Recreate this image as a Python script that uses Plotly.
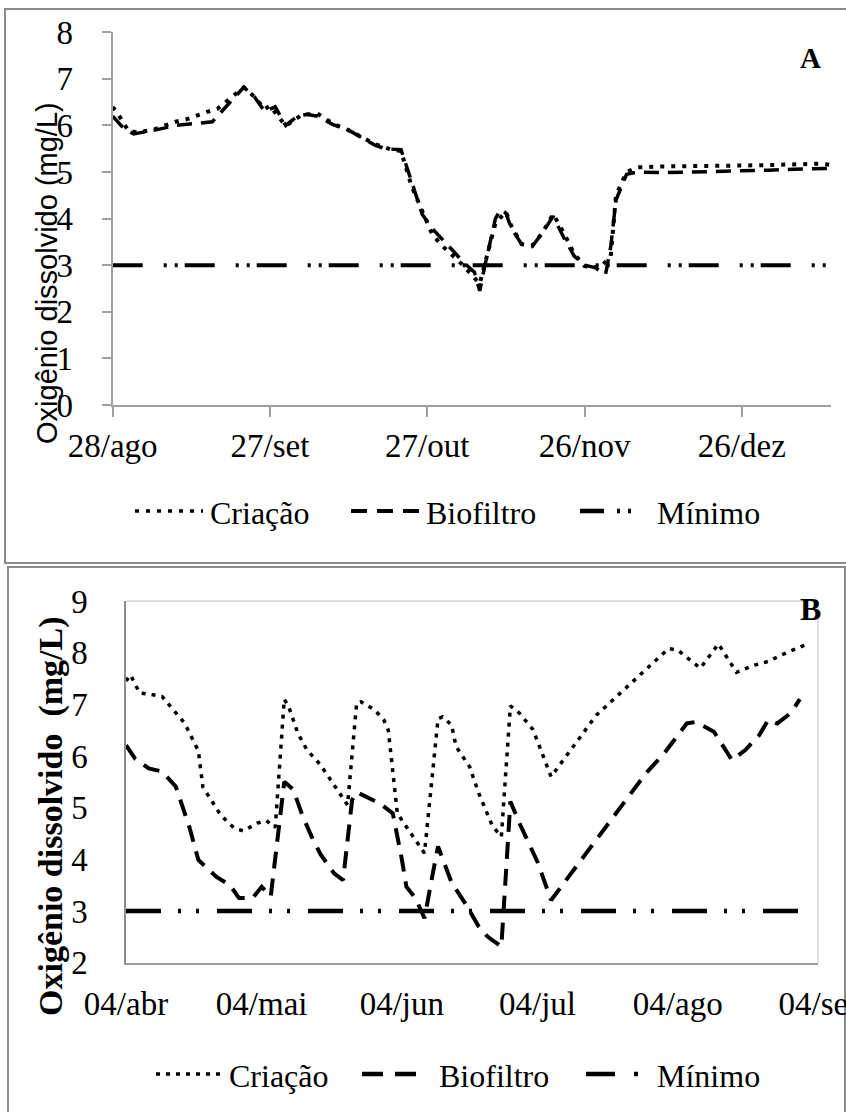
import plotly.graph_objects as go
import pandas as pd

W, H = 846, 1112

# ---------------- Panel A data (days since 28/ago) ----------------
inicio_a = "2012-08-28"
dias_criacao_a = [0, 1, 3, 5, 8, 12, 14, 16, 18, 20, 25, 27, 29, 30, 33, 36, 39, 42, 45, 48,
                  50, 53, 55, 57, 59, 61, 63, 65, 67, 70, 71, 73, 75, 76, 78, 80, 82, 84, 86, 88,
                  90, 93, 95, 96, 98, 100, 105, 110, 115, 120, 125, 130, 135, 137]
criacao_a = [6.40, 6.25, 5.88, 5.85, 5.92, 6.08, 6.13, 6.22, 6.29, 6.36, 6.82, 6.62, 6.35, 6.42, 5.99,
             6.22, 6.26, 6.04, 5.90, 5.72, 5.60, 5.49, 5.45, 4.70, 4.20, 3.65, 3.40, 3.20, 2.98, 2.60,
             3.05, 3.90, 4.15, 3.85, 3.45, 3.42, 3.70, 4.10, 3.70, 3.25, 2.98, 2.95, 3.20, 4.50, 5.00,
             5.10, 5.12, 5.12, 5.13, 5.14, 5.15, 5.17, 5.18, 5.15]
dias_biofiltro_a = [0, 2, 4, 8, 12, 15, 19, 22, 25, 27, 29, 31, 33, 35, 37, 39, 42, 45, 48, 50,
                    52, 55, 57, 59, 61, 63, 65, 67, 69, 70, 71, 73, 74, 75, 76, 78, 80, 82, 84, 86,
                    88, 90, 92, 94, 95, 96, 98, 100, 105, 110, 115, 120, 125, 130, 135, 137]
biofiltro_a = [6.20, 5.95, 5.82, 5.90, 6.00, 6.03, 6.08, 6.45, 6.82, 6.62, 6.30, 6.40, 6.00, 6.18, 6.24,
               6.20, 6.02, 5.90, 5.72, 5.58, 5.50, 5.48, 4.80, 4.10, 3.78, 3.55, 3.30, 3.05, 2.85, 2.45,
               3.00, 4.00, 4.20, 4.12, 3.80, 3.45, 3.40, 3.70, 4.05, 3.60, 3.20, 3.00, 2.95, 2.80, 3.40,
               4.40, 4.95, 5.00, 4.99, 5.00, 5.01, 5.02, 5.04, 5.06, 5.08, 5.08]
dias_minimo_a = [0, 137]
minimo_a = [3, 3]
ticks_dias_a = [0, 30, 60, 90, 120]
ticks_texto_a = ["28/ago", "27/set", "27/out", "26/nov", "26/dez"]
fim_a = 136.95

# ---------------- Panel B data (days since 04/abr) ----------------
inicio_b = "2013-04-04"
dias_criacao_b = [0, 1, 3, 5, 8, 10, 13, 16, 17, 21, 24, 26, 29, 31, 33, 35, 36, 38, 40, 43,
                  46, 49, 51, 52, 55, 57, 58, 60, 62, 64, 66, 69, 70, 72, 73, 76, 78, 81, 83, 85,
                  87, 90, 92, 94, 104, 120, 122, 127, 131, 135, 139, 142, 145, 151]
criacao_b = [7.45, 7.57, 7.22, 7.20, 7.15, 6.95, 6.63, 6.10, 5.40, 4.85, 4.60, 4.55, 4.70, 4.75, 4.62,
             7.10, 6.95, 6.44, 6.12, 5.83, 5.45, 5.05, 7.03, 7.05, 6.89, 6.70, 6.50, 4.89, 4.63, 4.37,
             4.12, 6.72, 6.76, 6.60, 6.18, 5.79, 5.28, 4.65, 4.44, 6.97, 6.83, 6.51, 6.05, 5.60, 6.79,
             8.08, 8.05, 7.70, 8.17, 7.62, 7.76, 7.83, 7.96, 8.18]
dias_biofiltro_b = [0, 2, 5, 8, 11, 14, 16, 20, 23, 25, 28, 30, 32, 35, 37, 39, 41, 43, 46, 48,
                    50, 51, 56, 59, 61, 62, 64, 66, 68, 69, 72, 75, 78, 80, 83, 85, 87, 91, 94, 115,
                    119, 124, 126, 130, 134, 137, 140, 142, 144, 147, 149]
biofiltro_b = [6.21, 5.95, 5.76, 5.70, 5.41, 4.63, 3.99, 3.66, 3.50, 3.25, 3.25, 3.47, 3.28, 5.50, 5.35,
               4.85, 4.45, 4.10, 3.73, 3.60, 5.15, 5.30, 5.09, 4.89, 4.00, 3.47, 3.25, 2.86, 3.80, 4.25,
               3.55, 3.15, 2.70, 2.50, 2.31, 5.12, 4.70, 3.95, 3.21, 5.67, 6.05, 6.63, 6.66, 6.47, 5.92,
               6.12, 6.40, 6.70, 6.63, 6.83, 7.10]
dias_minimo_b = [0, 152]
minimo_b = [3, 3]
ticks_dias_b = [0, 30, 61, 91, 122, 153]
ticks_texto_b = ["04/abr", "04/mai", "04/jun", "04/jul", "04/ago", "04/set"]
fim_b = 153.02

Y_LABEL = "Oxigênio dissolvido (mg/L)"
LEGENDA = ["Criação", "Biofiltro", "Mínimo"]


def datas(inicio, dias):
    return pd.Timestamp(inicio) + pd.to_timedelta(dias, unit="D")


def px(x):
    return x / W


def py(y):
    return 1 - y / H


SERIF = "Liberation Serif, Times New Roman, serif"
SANS = "Liberation Sans, Arial, sans-serif"
GRAY = "#a0a0a0"

DOT_A, DASH_A, MIN_A = "4px,7px", "15px,9px", "30px,21px,3px,8px,3px,7px"
DOT_B, DASH_B, MIN_B = "4px,6px", "17px,10px", "35px,17px,3px,15px,3px,18px"

fig = go.Figure()

# Panel A traces
fig.add_trace(go.Scatter(x=datas(inicio_a, dias_criacao_a), y=criacao_a, xaxis="x", yaxis="y",
                         mode="lines", name=LEGENDA[0], line=dict(color="black", width=4, dash=DOT_A)))
fig.add_trace(go.Scatter(x=datas(inicio_a, dias_biofiltro_a), y=biofiltro_a, xaxis="x", yaxis="y",
                         mode="lines", name=LEGENDA[1], line=dict(color="black", width=3.5, dash=DASH_A)))
fig.add_trace(go.Scatter(x=datas(inicio_a, dias_minimo_a), y=minimo_a, xaxis="x", yaxis="y",
                         mode="lines", name=LEGENDA[2], line=dict(color="black", width=4, dash=MIN_A)))

# Panel B traces
fig.add_trace(go.Scatter(x=datas(inicio_b, dias_criacao_b), y=criacao_b, xaxis="x2", yaxis="y2",
                         mode="lines", name=LEGENDA[0], line=dict(color="black", width=3.5, dash=DOT_B)))
fig.add_trace(go.Scatter(x=datas(inicio_b, dias_biofiltro_b), y=biofiltro_b, xaxis="x2", yaxis="y2",
                         mode="lines", name=LEGENDA[1], line=dict(color="black", width=4, dash=DASH_B)))
fig.add_trace(go.Scatter(x=datas(inicio_b, dias_minimo_b), y=minimo_b, xaxis="x2", yaxis="y2",
                         mode="lines", name=LEGENDA[2], line=dict(color="black", width=4.5, dash=MIN_B)))

tickfont = dict(family=SERIF, size=33, color="black")

fig.update_layout(
    width=W, height=H,
    margin=dict(l=0, r=0, t=0, b=0, autoexpand=False),
    paper_bgcolor="white", plot_bgcolor="white",
    showlegend=False,
    xaxis=dict(domain=[px(112.7), px(830.7)], anchor="y", type="date", automargin=False,
               range=[datas(inicio_a, [0])[0], datas(inicio_a, [fim_a])[0]],
               tickvals=list(datas(inicio_a, ticks_dias_a)), ticktext=ticks_texto_a,
               showline=True, linecolor=GRAY, linewidth=2, ticks="outside", ticklen=10,
               tickwidth=2, tickcolor=GRAY, showgrid=False, zeroline=False,
               tickfont=tickfont, ticklabelstandoff=0),
    yaxis=dict(domain=[py(405), py(32.3)], anchor="x", range=[0, 8], tick0=0, dtick=1, automargin=False,
               showline=True, linecolor=GRAY, linewidth=2, ticks="outside", ticklen=9,
               tickwidth=2, tickcolor=GRAY, showgrid=False, zeroline=False,
               tickfont=tickfont, ticklabelstandoff=22),
    xaxis2=dict(domain=[px(126), px(818)], anchor="y2", type="date", automargin=False,
                range=[datas(inicio_b, [0])[0], datas(inicio_b, [fim_b])[0]],
                tickvals=list(datas(inicio_b, ticks_dias_b)), ticktext=ticks_texto_b,
                showline=True, linecolor="#9a9a9a", linewidth=2, ticks="",
                showgrid=False, zeroline=False, tickfont=tickfont,
                ticklabelstandoff=11, ticklabeloverflow="allow"),
    yaxis2=dict(domain=[py(962.7), py(601)], anchor="x2", range=[2, 9], tick0=2, dtick=1, automargin=False,
                showline=True, linecolor="#8c8c8c", linewidth=1.5, ticks="",
                showgrid=False, zeroline=False, tickfont=tickfont, ticklabelstandoff=30),
)

shapes = []
# outer panel frames
shapes.append(dict(type="rect", xref="paper", yref="paper", x0=px(5), x1=px(849), y0=py(563), y1=py(9),
                   line=dict(color="#8a8a8a", width=2), layer="below"))
shapes.append(dict(type="rect", xref="paper", yref="paper", x0=px(8), x1=px(845), y0=py(1125), y1=py(567),
                   line=dict(color="#8a8a8a", width=2), layer="below"))
# light frame top/right of plot B
shapes.append(dict(type="line", xref="x2 domain", yref="y2 domain", x0=0, x1=1, y0=1, y1=1,
                   line=dict(color="#d4d4d4", width=1.5)))
shapes.append(dict(type="line", xref="x2 domain", yref="y2 domain", x0=1, x1=1, y0=0, y1=1,
                   line=dict(color="#d4d4d4", width=1.5)))

annotations = []


def legend_item(x0, x1, y, dash, width, tx, text):
    shapes.append(dict(type="line", xref="paper", yref="paper", x0=px(x0), x1=px(x1),
                       y0=py(y), y1=py(y), line=dict(color="black", width=width, dash=dash)))
    annotations.append(dict(text=text, xref="paper", yref="paper", x=px(tx), y=py(y + 2),
                            xanchor="left", yanchor="middle", showarrow=False,
                            font=dict(family=SERIF, size=32, color="black")))


# legend A
legend_item(135, 203, 511, DOT_A, 3.5, 208, LEGENDA[0])
legend_item(351, 419, 511, "16px,10px", 4, 424, LEGENDA[1])
legend_item(580, 642, 511, "24px,13px,3px,8px,3px,20px", 4.5, 655, LEGENDA[2])
# legend B
legend_item(156, 220, 1074, DOT_B, 3.5, 227, LEGENDA[0])
legend_item(362, 417, 1074, "21px,12px", 4.5, 437, LEGENDA[1])
legend_item(586, 642, 1074, "29px,19px,4px,40px", 4.5, 655, LEGENDA[2])

# y-axis titles
annotations.append(dict(text=Y_LABEL, xref="paper", yref="paper", x=px(47), y=py(273),
                        textangle=-90, showarrow=False, xanchor="center", yanchor="middle",
                        font=dict(family=SANS, size=29, color="black")))
annotations.append(dict(text="<b>Oxigênio dissolvido  (mg/L)</b>", xref="paper", yref="paper",
                        x=px(51), y=py(816), textangle=-90, showarrow=False,
                        xanchor="center", yanchor="middle",
                        font=dict(family=SERIF, size=34, color="black")))
# panel letters
annotations.append(dict(text="<b>A</b>", xref="paper", yref="paper", x=px(810), y=py(58),
                        showarrow=False, xanchor="center", yanchor="middle",
                        font=dict(family=SERIF, size=29, color="black")))
annotations.append(dict(text="<b>B</b>", xref="paper", yref="paper", x=px(810), y=py(609),
                        showarrow=False, xanchor="center", yanchor="middle",
                        font=dict(family=SERIF, size=32, color="black")))

fig.update_layout(shapes=shapes, annotations=annotations)
fig.write_html("out.html", config={"displayModeBar": False},
               post_script="document.body.style.margin='0';document.body.style.overflow='hidden';")
